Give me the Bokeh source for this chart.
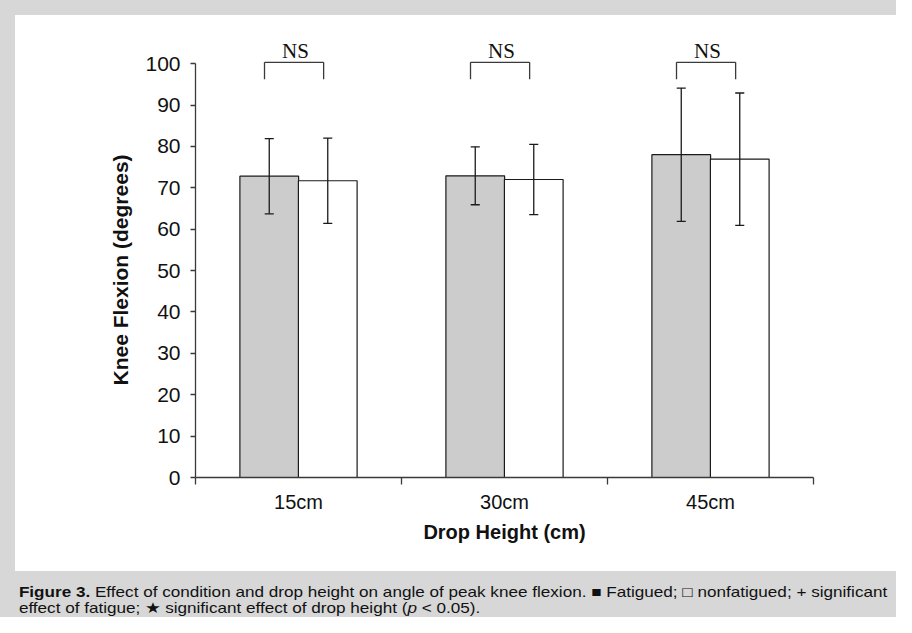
import math
from bokeh.plotting import figure
from bokeh.models import FixedTicker, Title, Div
from bokeh.layouts import column, row
from bokeh.core.properties import value
from bokeh.embed import file_html
from bokeh.resources import INLINE

# ---- data ----
heights = ["15cm", "30cm", "45cm"]
fatigued = [72.8, 72.9, 78.0]
fatigued_sd = [9.1, 7.0, 16.1]
nonfatigued = [71.7, 72.0, 76.9]
nonfatigued_sd = [10.3, 8.5, 16.0]
sig_labels = ["NS", "NS", "NS"]
y_ticks = [0, 10, 20, 30, 40, 50, 60, 70, 80, 90, 100]

GRAY_BG = "#d7d7d7"
BAR_GRAY = "#cccccc"
AX = "#3a3a3a"
SANS = "Liberation Sans"

p = figure(width=881, height=556, x_range=(0, 3), y_range=(0, 108),
           output_backend="svg", toolbar_location=None,
           min_border_left=180, min_border_right=83,
           min_border_top=15, min_border_bottom=94)
p.outline_line_color = None
p.xgrid.visible = False
p.ygrid.visible = False
p.background_fill_color = "white"
p.border_fill_color = "white"

n = len(heights)
centers = [i + 0.5 for i in range(n)]
bw = 0.285
off = 0.142
xf = [c - off for c in centers]
xn = [c + off for c in centers]

p.vbar(x=xf, top=fatigued, bottom=0, width=bw, fill_color=BAR_GRAY,
       line_color="#1a1a1a", line_width=1.2)
p.vbar(x=xn, top=nonfatigued, bottom=0, width=bw, fill_color="white",
       line_color="#1a1a1a", line_width=1.2)

# error bars
cap = 0.022
for xs, ms, sds in ((xf, fatigued, fatigued_sd), (xn, nonfatigued, nonfatigued_sd)):
    lo = [m - s for m, s in zip(ms, sds)]
    hi = [m + s for m, s in zip(ms, sds)]
    p.segment(x0=xs, y0=lo, x1=xs, y1=hi, line_color="#1a1a1a", line_width=1.3)
    p.segment(x0=[x - cap for x in xs], y0=hi, x1=[x + cap for x in xs], y1=hi,
              line_color="#1a1a1a", line_width=1.3)
    p.segment(x0=[x - cap for x in xs], y0=lo, x1=[x + cap for x in xs], y1=lo,
              line_color="#1a1a1a", line_width=1.3)

# NS brackets
bl = [c - 0.165 for c in centers]
br = [c + 0.122 for c in centers]
ytop, ybot = 100.3, 96.2
p.segment(x0=bl, y0=[ytop] * n, x1=br, y1=[ytop] * n, line_color=AX, line_width=1.3)
p.segment(x0=bl, y0=[ytop] * n, x1=bl, y1=[ybot] * n, line_color=AX, line_width=1.3)
p.segment(x0=br, y0=[ytop] * n, x1=br, y1=[ybot] * n, line_color=AX, line_width=1.3)
p.text(x=[c - 0.015 for c in centers], y=[103.1] * n, text=sig_labels,
       text_align="center", text_baseline="middle",
       text_font=value("Liberation Serif"), text_font_size="21px",
       text_color="#111111")

# y axis
ya = p.yaxis[0]
ya.ticker = FixedTicker(ticks=y_ticks)
ya.bounds = (0, 100)
ya.major_tick_out = 5
ya.major_tick_in = 0
ya.minor_tick_out = 0
ya.minor_tick_in = 0
ya.axis_line_color = AX
ya.axis_line_width = 1.3
ya.major_tick_line_color = AX
ya.major_tick_line_width = 1.3
ya.major_label_text_font = SANS
ya.major_label_text_font_size = "21px"
ya.major_label_text_color = "#111111"
ya.major_label_standoff = 10

# x axis
xa = p.xaxis[0]
xa.ticker = FixedTicker(ticks=centers, minor_ticks=[0, 1, 2, 3])
xa.major_label_overrides = {c: h for c, h in zip(centers, heights)}
xa.bounds = (0, 3)
xa.major_tick_out = 0
xa.major_tick_in = 0
xa.minor_tick_out = 7
xa.minor_tick_in = 0
xa.minor_tick_line_color = AX
xa.minor_tick_line_width = 1.3
xa.axis_line_color = AX
xa.axis_line_width = 1.3
xa.major_label_text_font = SANS
xa.major_label_text_font_size = "20px"
xa.major_label_text_color = "#111111"
xa.major_label_standoff = 6
xa.axis_label = "Drop Height (cm)"
xa.axis_label_text_font = SANS
xa.axis_label_text_font_style = "bold"
xa.axis_label_text_font_size = "20px"
xa.axis_label_text_color = "#111111"
xa.axis_label_standoff = 5

# y axis title (as a left-side title so it can be offset along the axis)
p.add_layout(Title(text="Knee Flexion (degrees)", align="left", offset=92,
                   standoff=22, text_font=SANS, text_font_style="bold",
                   text_font_size="21px", text_color="#111111"), "left")

top_strip = Div(text="", width=896, height=15, margin=0,
                styles={"background-color": GRAY_BG})
left_strip = Div(text="", width=15, height=556, margin=0,
                 styles={"background-color": GRAY_BG})
caption_html = (
    '<div style="padding:12.5px 0 0 16px; font-family:\'Liberation Sans\', Arial, sans-serif; '
    'font-size:14.5px; line-height:16.5px; white-space:nowrap; color:#111; '
    'transform:scaleX(1.18); transform-origin:0 0;">'
    '<b>Figure 3.</b> Effect of condition and drop height on angle of peak knee flexion. '
    '&#9632; Fatigued; &#9633; nonfatigued; + significant<br>'
    'effect of fatigue; &#9733; significant effect of drop height (<i>p</i> &lt; 0.05).'
    '</div>'
)
caption = Div(text=caption_html, width=896, height=46, margin=0,
              styles={"background-color": GRAY_BG, "overflow": "hidden"})

layout = column(top_strip, row(left_strip, p, spacing=0), caption, spacing=0)

open("out.html", "w").write(file_html(layout, INLINE))
